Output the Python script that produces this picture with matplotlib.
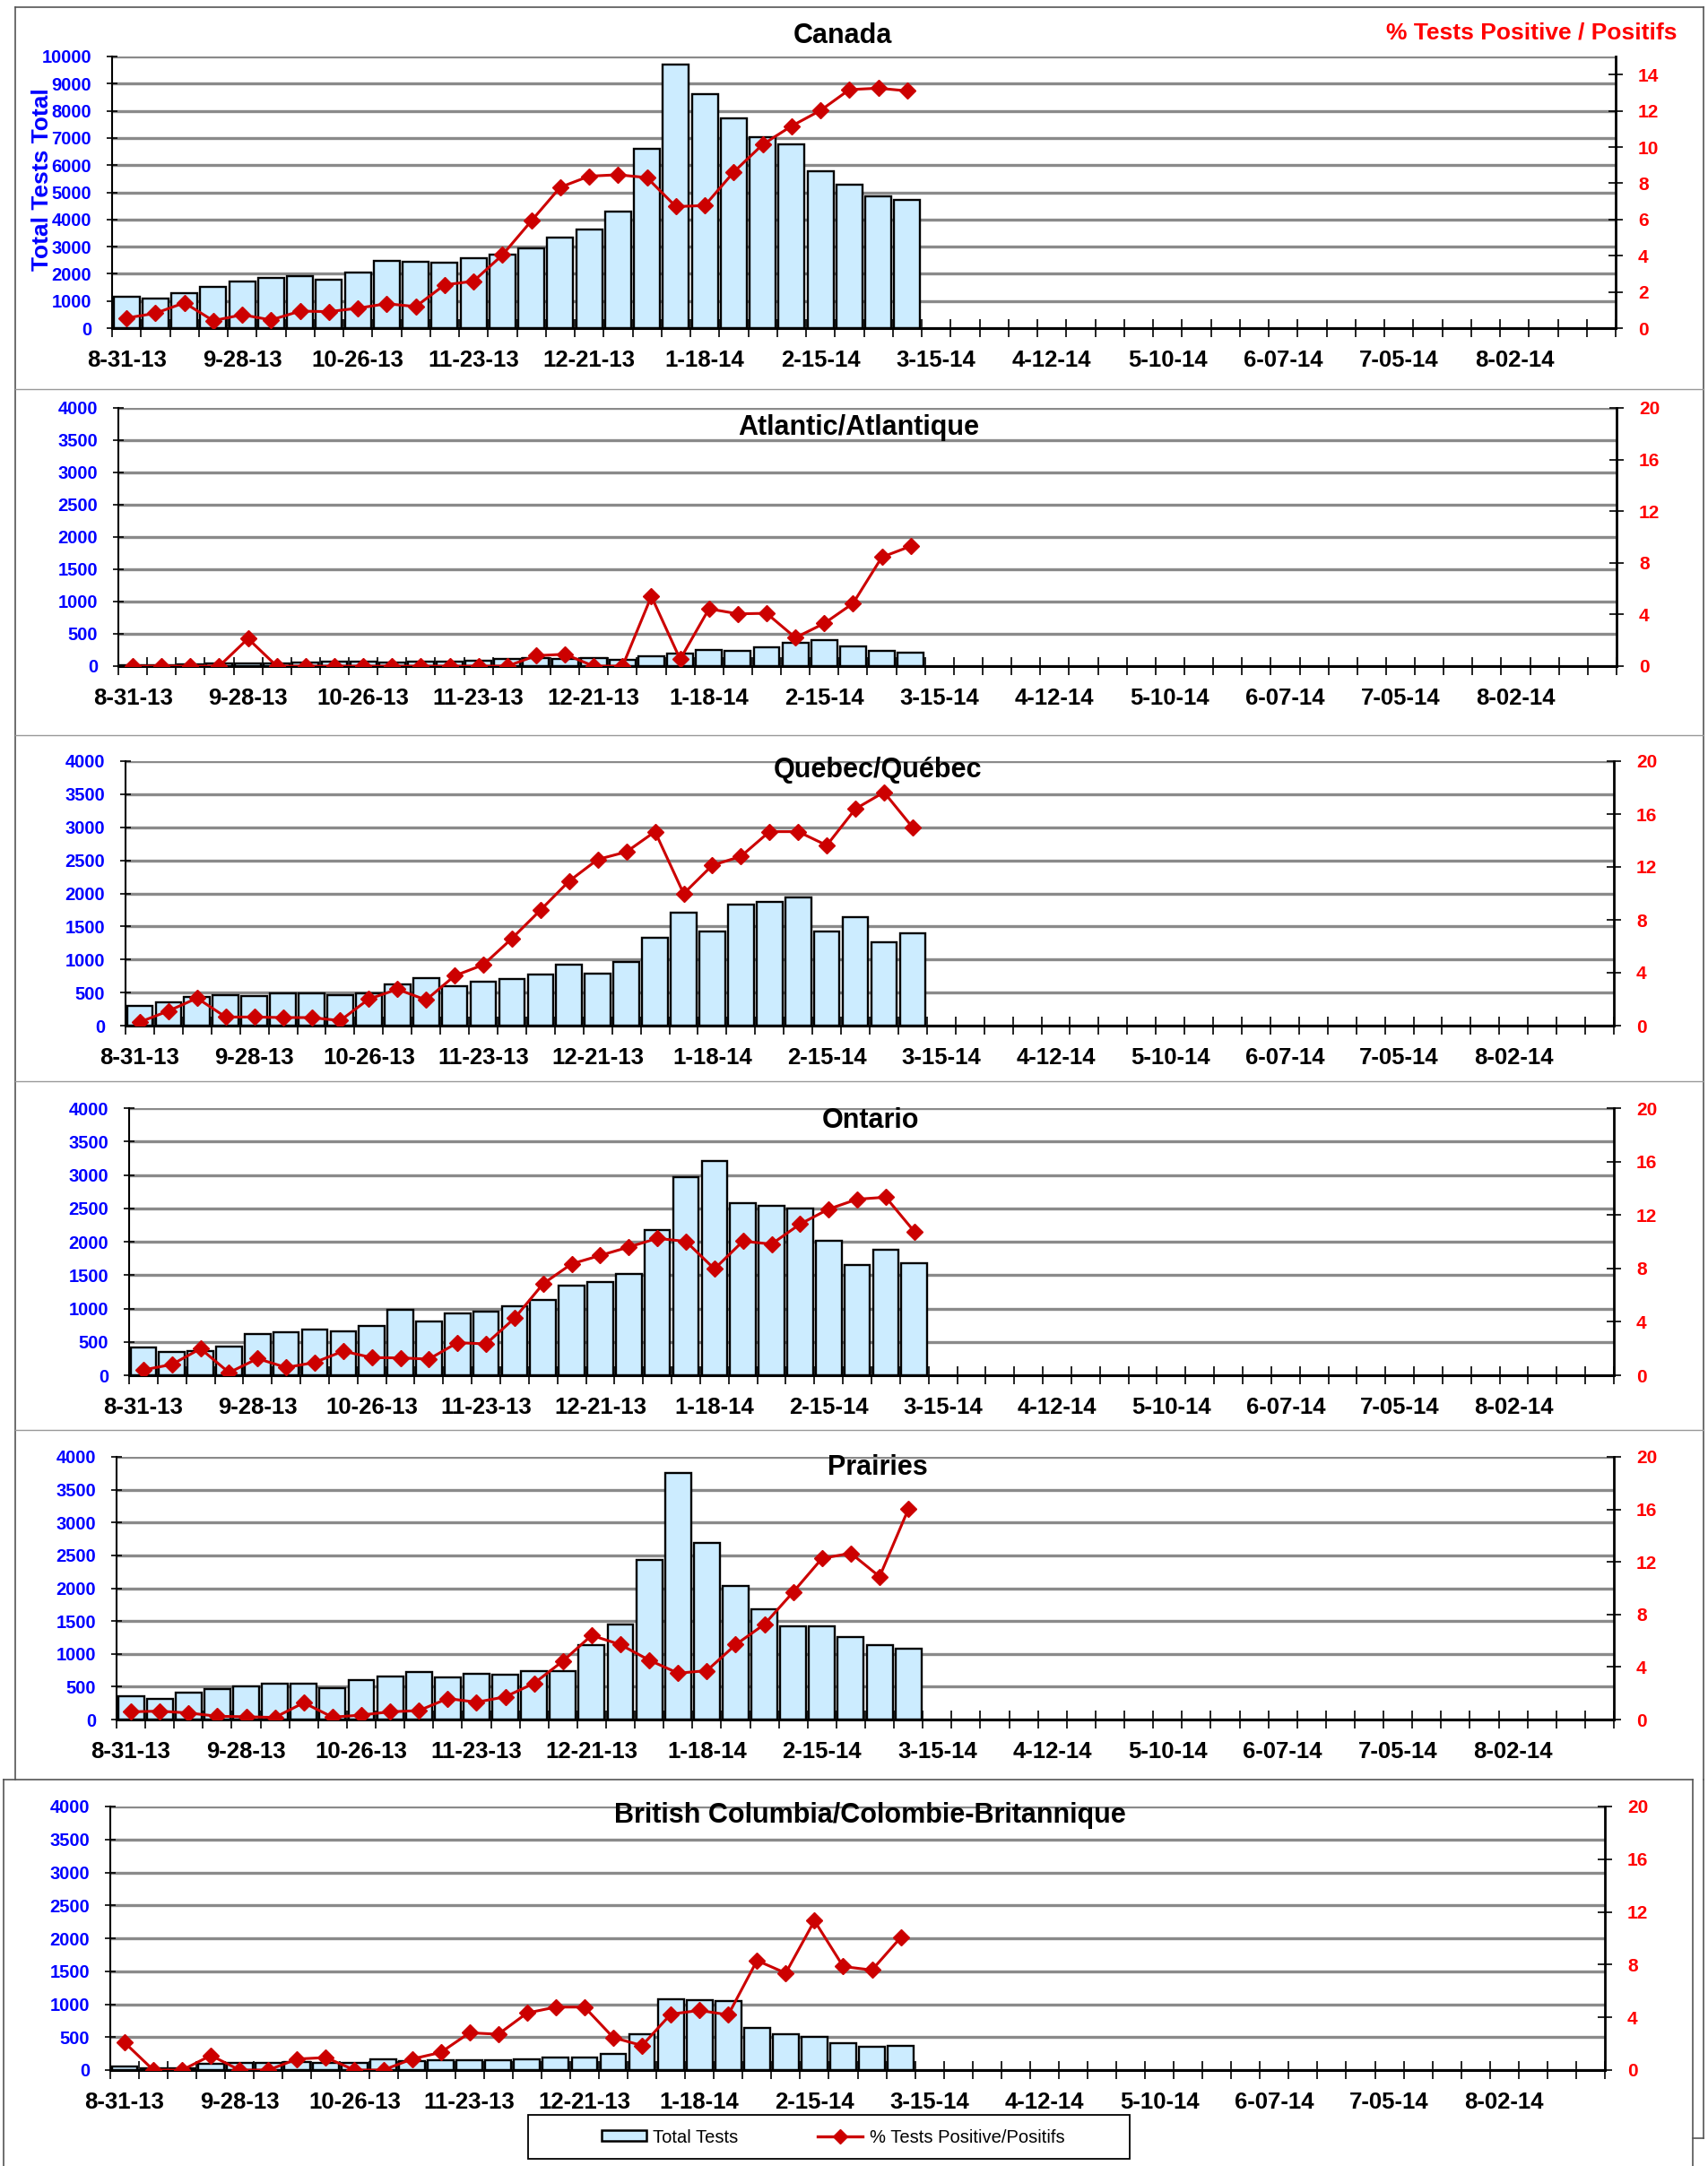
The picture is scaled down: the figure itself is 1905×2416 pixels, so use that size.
import numpy as np
import matplotlib.pyplot as plt
from matplotlib.lines import Line2D
from matplotlib.patches import Patch, Rectangle

plt.rcParams['font.family'] = ['Liberation Sans', 'DejaVu Sans']

W, H = 1905, 2416
n_weeks = 52

tick_labels = ['8-31-13', '9-28-13', '10-26-13', '11-23-13', '12-21-13', '1-18-14',
               '2-15-14', '3-15-14', '4-12-14', '5-10-14', '6-07-14', '7-05-14', '8-02-14']

canada_tests = [1140, 1090, 1275, 1505, 1725, 1835, 1920, 1780, 2035, 2485, 2450, 2395, 2560, 2690,
                2945, 3340, 3625, 4285, 6615, 9690, 8625, 7725, 7045, 6770, 5770, 5265, 4845, 4735]
canada_pct = [0.56, 0.82, 1.40, 0.41, 0.74, 0.45, 0.94, 0.91, 1.10, 1.35, 1.19, 2.39, 2.59, 4.04,
              5.92, 7.78, 8.39, 8.47, 8.31, 6.71, 6.77, 8.62, 10.14, 11.16, 12.02, 13.17, 13.25, 13.10]

atlantic_tests = [20, 20, 25, 40, 45, 40, 55, 65, 65, 55, 65, 70, 80, 115,
                  130, 115, 120, 92, 150, 195, 255, 230, 290, 365, 398, 310, 235, 213]
atlantic_pct = [0, 0, 0, 0, 2.13, 0, 0, 0, 0, 0, 0, 0, 0, 0,
                0.81, 0.92, 0, 0, 5.41, 0.53, 4.44, 4.05, 4.09, 2.20, 3.31, 4.86, 8.44, 9.29]

quebec_tests = [293, 348, 429, 465, 442, 488, 488, 465, 492, 623, 718, 596, 664, 700,
                777, 926, 781, 962, 1332, 1711, 1427, 1837, 1874, 1937, 1422, 1634, 1255, 1391]
quebec_pct = [0.27, 1.11, 2.08, 0.65, 0.65, 0.61, 0.61, 0.38, 2.01, 2.75, 1.94, 3.77, 4.60, 6.59,
              8.74, 10.93, 12.57, 13.14, 14.67, 9.98, 12.12, 12.80, 14.67, 14.67, 13.63, 16.39, 17.65, 14.99]

ontario_tests = [421, 349, 362, 430, 622, 644, 685, 653, 743, 984, 810, 922, 957, 1034,
                 1132, 1347, 1400, 1512, 2170, 2966, 3213, 2573, 2537, 2492, 2013, 1655, 1884, 1678]
ontario_pct = [0.40, 0.81, 1.99, 0.20, 1.25, 0.58, 0.96, 1.81, 1.32, 1.30, 1.21, 2.44, 2.35, 4.27,
               6.85, 8.34, 8.97, 9.60, 10.25, 10.02, 7.96, 10.04, 9.82, 11.32, 12.44, 13.18, 13.33, 10.76]

prairies_tests = [351, 319, 415, 465, 502, 552, 552, 479, 597, 661, 725, 639, 693, 684,
                  734, 743, 1136, 1446, 2426, 3749, 2686, 2034, 1678, 1423, 1423, 1250, 1136, 1081]
prairies_pct = [0.59, 0.64, 0.50, 0.25, 0.21, 0.16, 1.28, 0.18, 0.34, 0.59, 0.68, 1.60, 1.32, 1.73,
                2.76, 4.45, 6.41, 5.70, 4.52, 3.53, 3.72, 5.70, 7.25, 9.71, 12.27, 12.66, 10.88, 16.03]

bc_tests = [54, 32, 32, 100, 109, 109, 122, 113, 113, 168, 136, 154, 145, 145,
            168, 195, 195, 249, 539, 1078, 1060, 1042, 643, 548, 503, 408, 353, 371]
bc_pct = [2.08, 0, 0, 1.11, 0, 0, 0.84, 0.95, 0, 0, 0.84, 1.34, 2.83, 2.72,
          4.33, 4.78, 4.78, 2.47, 1.86, 4.24, 4.53, 4.19, 8.31, 7.36, 11.33, 7.86, 7.59, 10.06]

BAR_COLOR = '#CCECFF'
LINE_COLOR = '#CC0000'

fig = plt.figure(figsize=(W / 100, H / 100), dpi=100)


def fx(px):
    return px / W


def fy(py):
    return 1 - py / H


def draw_panel(box, title, title_xy, tests, pct, ymax, ystep, rmax, rstep, rtop):
    l, r, t, b = box
    ax = fig.add_axes([fx(l), fy(b), (r - l) / W, (b - t) / H])
    x = np.arange(len(tests))
    ax.set_axisbelow(True)
    ax.yaxis.grid(True, color='#8a8a8a', lw=2.4)
    ax.bar(x, tests, width=0.9, color=BAR_COLOR, edgecolor='black', lw=1.7, zorder=2)
    ax.set_xlim(-0.5, n_weeks - 0.5)
    ax.set_ylim(0, ymax)
    ax.set_yticks(np.arange(0, ymax + 1, ystep))
    ax.tick_params(axis='y', direction='inout', length=9, width=1.2, pad=12,
                   labelcolor='#0000FF', labelsize=14.5)
    for lab in ax.get_yticklabels():
        lab.set_fontweight('bold')
    # tick marks between weeks, labels under every 4th week
    ax.set_xticks(np.arange(-0.5, n_weeks, 1))
    ax.set_xticklabels([])
    ax.tick_params(axis='x', which='major', direction='inout', length=14, width=1.2)
    ax.set_xticks(np.arange(0, n_weeks, 4), minor=True)
    ax.set_xticklabels(tick_labels, minor=True, fontsize=18.5, fontweight='bold')
    ax.tick_params(axis='x', which='minor', length=0, pad=17)
    ax.spines['top'].set_visible(False)
    ax.spines['right'].set_visible(False)
    ax.spines['left'].set_linewidth(1.5)
    ax.spines['bottom'].set_linewidth(2.2)

    ax2 = ax.twinx()
    ax2.plot(x, pct, color=LINE_COLOR, lw=2.2, marker='D', ms=9.5, zorder=3)
    ax2.set_ylim(0, rmax)
    ax2.set_yticks(np.arange(0, rtop + 1, rstep))
    ax2.tick_params(axis='y', direction='inout', length=12, width=1.2, pad=12,
                    labelcolor='#FF0000', labelsize=15)
    for lab in ax2.get_yticklabels():
        lab.set_fontweight('bold')
    for s in ['top', 'left', 'bottom']:
        ax2.spines[s].set_visible(False)
    ax2.spines['right'].set_linewidth(2)

    fig.text(fx(title_xy[0]), fy(title_xy[1]), title, ha='center', va='center',
             fontsize=22, fontweight='bold', zorder=10)
    return ax


draw_panel((125, 1802, 63, 366), 'Canada', (940, 40), canada_tests, canada_pct,
           10000, 1000, 15, 2, 14)
draw_panel((132, 1803, 455, 743), 'Atlantic/Atlantique', (958, 477), atlantic_tests, atlantic_pct,
           4000, 500, 20, 4, 20)
draw_panel((140, 1800, 849, 1144), 'Quebec/Québec', (979, 859), quebec_tests, quebec_pct,
           4000, 500, 20, 4, 20)
draw_panel((144, 1800, 1236, 1534), 'Ontario', (971, 1250), ontario_tests, ontario_pct,
           4000, 500, 20, 4, 20)
draw_panel((130, 1800, 1625, 1918), 'Prairies', (979, 1637), prairies_tests, prairies_pct,
           4000, 500, 20, 4, 20)
draw_panel((123, 1790, 2015, 2309), 'British Columbia/Colombie-Britannique', (970, 2025),
           bc_tests, bc_pct, 4000, 500, 20, 4, 20)

# header texts of the Canada panel
fig.text(fx(1871), fy(37), '% Tests Positive / Positifs', ha='right', va='center',
         color='#FF0000', fontsize=19, fontweight='bold')
fig.text(fx(47), fy(200), 'Total Tests Total', ha='center', va='center', rotation=90,
         color='#0000FF', fontsize=19, fontweight='bold')

# panel frames
frame_kw = dict(color='#555555', lw=1.2, transform=fig.transFigure)
fig.add_artist(Line2D([fx(17), fx(1900)], [fy(8), fy(8)], **frame_kw))
fig.add_artist(Line2D([fx(17), fx(17)], [fy(8), fy(1985)], **frame_kw))
fig.add_artist(Line2D([fx(1900), fx(1900)], [fy(8), fy(1985)], **frame_kw))
for yy in [434, 820, 1206, 1595]:
    fig.add_artist(Line2D([fx(17), fx(1900)], [fy(yy), fy(yy)], color='#999999', lw=1,
                          transform=fig.transFigure))
fig.add_artist(Line2D([fx(4), fx(1888)], [fy(1985), fy(1985)], **frame_kw))
fig.add_artist(Line2D([fx(4), fx(4)], [fy(1985), fy(2416)], **frame_kw))
fig.add_artist(Line2D([fx(1888), fx(1888)], [fy(1985), fy(2416)], **frame_kw))
fig.add_artist(Line2D([fx(1900), fx(1900)], [fy(1985), fy(2385)], **frame_kw))
fig.add_artist(Line2D([fx(1888), fx(1900)], [fy(2385), fy(2385)], **frame_kw))

# legend: box drawn separately, entries centred inside it
fig.add_artist(Rectangle((fx(589), fy(2408)), (1260 - 589) / W, (2408 - 2359) / H,
                         transform=fig.transFigure, facecolor='white', edgecolor='black',
                         lw=1.3, zorder=5))
handles = [Patch(facecolor=BAR_COLOR, edgecolor='black', lw=1.8),
           Line2D([], [], color=LINE_COLOR, lw=2.4, marker='D', ms=8)]
leg = fig.legend(handles, ['Total Tests', '% Tests Positive/Positifs'], loc='center',
                 bbox_to_anchor=(fx(929), fy(2384)), ncol=2, fontsize=14.5,
                 frameon=False, columnspacing=4.4, handlelength=2.5, handleheight=0.55,
                 handletextpad=0.35, borderaxespad=0)
leg.set_zorder(6)

plt.savefig('out.png', dpi=100)
